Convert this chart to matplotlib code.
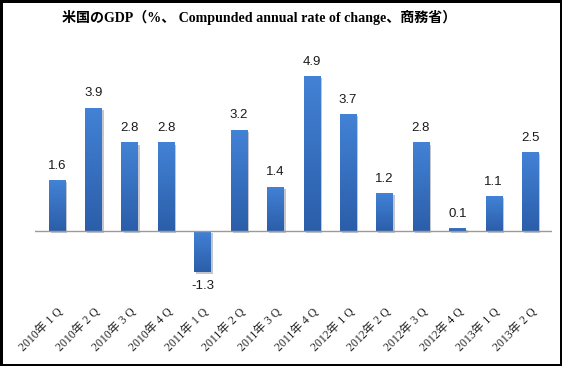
import numpy as np
import matplotlib
matplotlib.use("Agg")
import matplotlib.pyplot as plt
from matplotlib import patheffects as pe
from matplotlib.colors import LinearSegmentedColormap

categories = ["2010年1Q", "2010年2Q", "2010年3Q", "2010年4Q",
              "2011年1Q", "2011年2Q", "2011年3Q", "2011年4Q",
              "2012年1Q", "2012年2Q", "2012年3Q", "2012年4Q",
              "2013年1Q", "2013年2Q"]
values = [1.6, 3.9, 2.8, 2.8, -1.3, 3.2, 1.4, 4.9, 3.7, 1.2, 2.8, 0.1, 1.1, 2.5]
title = "米国のGDP（%、 Compunded annual rate of change、商務省）"

W, H = 562, 366
fig = plt.figure(figsize=(W / 100, H / 100), dpi=100)
fig.patch.set_facecolor("white")
fig.patch.set_edgecolor("black")
fig.patch.set_linewidth(2.5)

ax = fig.add_axes([35 / W, 1 - 300 / H, (552 - 35) / W, (300 - 45) / H])
for s in ax.spines.values():
    s.set_visible(False)
ax.tick_params(axis="both", length=0)
ax.set_yticks([])

x = np.arange(len(values))
cmap = LinearSegmentedColormap.from_list("g", ["#2b5ea9", "#4382d6"])
bars = ax.bar(x, values, width=0.45, color="#3570c0", zorder=2,
              path_effects=[pe.SimplePatchShadow(offset=(1.5, -1.5), alpha=0.25), pe.Normal()])
grad = np.linspace(0, 1, 256).reshape(-1, 1)
for b in bars:
    x0, y0 = b.get_x(), b.get_y()
    w, h = b.get_width(), b.get_height()
    lo, hi = min(y0, y0 + h), max(y0, y0 + h)
    im = ax.imshow(grad, cmap=cmap, origin="lower", aspect="auto",
                   extent=(x0, x0 + w, lo, hi), zorder=3)
    im.set_clip_path(b)
ax.set_xlim(-0.6, len(values) - 0.4)
ax.set_ylim(-2.18, 5.88)

ax.axhline(0, color="#9a9a9a", lw=1.0, zorder=4)

for xi, v in zip(x, values):
    if v >= 0:
        ax.annotate(f"{v:.1f}", (xi, v), xytext=(0, 6), textcoords="offset points",
                    ha="center", va="bottom", fontsize=9.5, family=["Liberation Sans"], color="#1a1a1a")
    else:
        ax.annotate(f"{v:.1f}", (xi, v), xytext=(0, -6), textcoords="offset points",
                    ha="center", va="top", fontsize=9.5, family=["Liberation Sans"], color="#1a1a1a")

ax.set_xticks(x)
ax.set_xticklabels([c.replace("年", "年 ").replace("Q", " Q") for c in categories],
                   rotation=45, ha="right", rotation_mode="anchor", fontsize=8.5,
                   family=["Liberation Serif", "Noto Sans CJK JP"], color="#222222")
ax.tick_params(axis="x", pad=4)

fig.text(259 / W, 1 - 17 / H, title, ha="center", va="center", fontsize=10.1, fontweight="bold",
         family=["Liberation Serif", "Noto Sans CJK JP"])

fig.savefig("out.png", dpi=100, facecolor=fig.get_facecolor(), edgecolor=fig.get_edgecolor())
